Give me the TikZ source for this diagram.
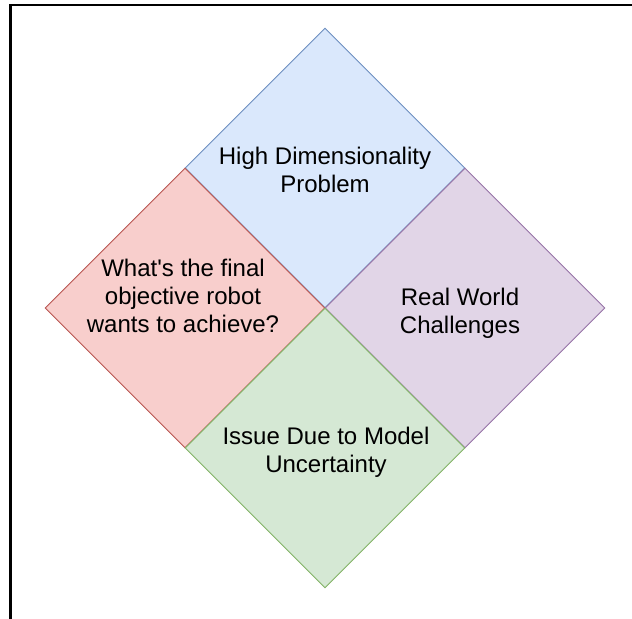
\documentclass[tikz,border=0pt]{standalone}
\usepackage{fontspec}
\setmainfont{Liberation Sans}
\usetikzlibrary{shapes.geometric}
\definecolor{dimfill}{HTML}{DAE8FC}
\definecolor{dimline}{HTML}{6C8EBF}
\definecolor{goalfill}{HTML}{F8CECC}
\definecolor{goalline}{HTML}{B85450}
\definecolor{realfill}{HTML}{E1D5E7}
\definecolor{realline}{HTML}{9673A6}
\definecolor{modelfill}{HTML}{D5E8D4}
\definecolor{modelline}{HTML}{82B366}

\begin{document}
\begin{tikzpicture}[
        x=0.03cm, y=-0.03cm,
        quadrant/.style 2 args={diamond, draw=#1, fill=#2, minimum width=8.4cm, minimum height=8.4cm, inner sep=0pt, line width=0.8pt},
        quadtext/.style={align=center, inner sep=0pt, font=\fontsize{20.5pt}{23.9pt}\selectfont},
    ]
    \useasboundingbox (0,0) rectangle (632,619);

    % Frame (top and left edge only)
    \draw[line width=2pt] (10.5,619) -- (10.5,5.3) -- (632,5.3);

    % Quadrants
    \node[quadrant={dimline}{dimfill}] (dim) at (325,168) {};
    \node[quadrant={goalline}{goalfill}] (goal) at (185,308) {};
    \node[quadrant={realline}{realfill}] (real) at (465,308) {};
    \node[quadrant={modelline}{modelfill}] (model) at (325,448) {};

    % Labels
    \node[quadtext] (dimtext) at (325,169.5) {High Dimensionality\\Problem};
    \node[quadtext] (goaltext) at (183,295.5) {What\textquotesingle s the final\\objective robot\\wants to achieve?};
    \node[quadtext] (realtext) at (460,313.5) {Real World\\Challenges};
    \node[quadtext] (modeltext) at (326,452) {Issue Due to Model\\Uncertainty};

\end{tikzpicture}
\end{document}
